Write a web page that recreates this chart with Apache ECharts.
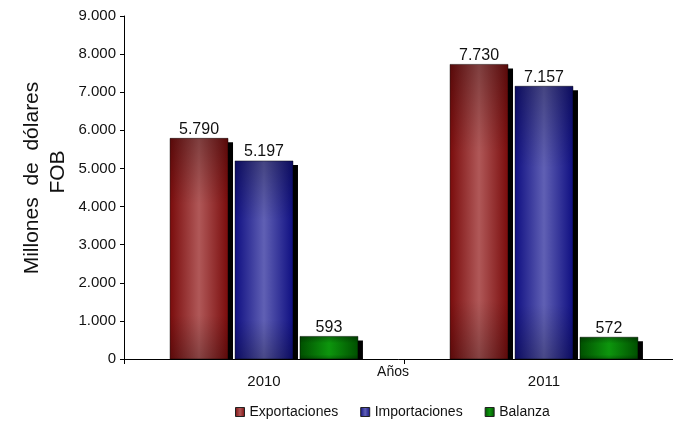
<!DOCTYPE html>
<html><head><meta charset="utf-8">
<script src="https://cdn.jsdelivr.net/npm/echarts@6/dist/echarts.min.js"></script>
<style>html,body{margin:0;padding:0;background:#fff}#c{width:673px;height:422px}</style>
</head><body><div id="c"></div>
<script>
const categories = ['2010', '2011'];
const exportaciones = [5790, 7730];
const importaciones = [5197, 7157];
const balanza = [593, 572];
const seriesNames = ['Exportaciones', 'Importaciones', 'Balanza'];
const yTicks = { min: 0, max: 9000, interval: 1000 };

function fmt(v) { return String(v).replace(/\B(?=(\d{3})+(?!\d))/g, '.'); }
function hgrad(edge, mid) {
  return new echarts.graphic.LinearGradient(0, 0, 1, 0, [
    { offset: 0, color: edge }, { offset: 0.5, color: mid }, { offset: 1, color: edge }
  ]);
}
const palette = [
  { edge: '#7a0c0c', mid: '#b05858' },
  { edge: '#0f0f82', mid: '#6060b4' },
  { edge: '#005000', mid: '#0d960d' }
];
const font = 'Liberation Sans, Arial, sans-serif';

function renderFor(s) {
  return function (params, api) {
    const cat = api.value(0), val = api.value(1);
    const band = api.size([1, 0])[0];
    const bw = band * 0.207, gap = band * 0.025;
    const groupW = 3 * bw + 2 * gap;
    const center = api.coord([cat, 0])[0];
    const x = center - groupW / 2 + s * (bw + gap);
    const top = api.coord([cat, val])[1];
    const base = api.coord([cat, 0])[1];
    const h = base - top;
    const p = palette[s];
    return {
      type: 'group',
      children: [
        { type: 'rect', shape: { x: x + 5, y: top + 4, width: bw, height: Math.max(0, h - 4) },
          style: { fill: '#000' } },
        { type: 'rect', shape: { x: x, y: top, width: bw, height: h },
          style: { fill: hgrad(p.edge, p.mid) } },
        { type: 'rect', shape: { x: x, y: top, width: bw, height: h },
          style: { fill: new echarts.graphic.LinearGradient(0, 0, 0, 1, [
            { offset: 0, color: 'rgba(0,0,0,0.28)' }, { offset: 0.3, color: 'rgba(0,0,0,0)' },
            { offset: 0.8, color: 'rgba(0,0,0,0)' }, { offset: 1, color: 'rgba(0,0,0,0.25)' }]) } },
        { type: 'rect', shape: { x: x, y: top, width: bw, height: h },
          style: { fill: 'none', stroke: 'rgba(0,0,0,0.55)', lineWidth: 0.8 } },
        { type: 'text', x: x + bw / 2, y: top - 1,
          style: { text: fmt(val), font: '16px ' + font, fill: '#111', textAlign: 'center', textVerticalAlign: 'bottom' } }
      ]
    };
  };
}
function mk(name, data, s) {
  return {
    name: name, type: 'custom', renderItem: renderFor(s),
    data: data.map((v, i) => [i, v]),
    encode: { x: 0, y: 1 },
    itemStyle: { color: hgrad(palette[s].edge, palette[s].mid) }
  };
}
const chart = echarts.init(document.getElementById('c'), null, { renderer: 'canvas' });
chart.setOption({
  animation: false,
  backgroundColor: '#fff',
  grid: { left: 124, right: -11, top: 16, bottom: 63, containLabel: false, outerBoundsMode: 'none' },
  graphic: [
    { type: 'text', x: 32, y: 178, rotation: Math.PI / 2,
      style: { text: 'Millones  de  dólares', font: '21px ' + font, fill: '#111', textAlign: 'center', textVerticalAlign: 'middle' } },
    { type: 'text', x: 58, y: 172, rotation: Math.PI / 2,
      style: { text: 'FOB', font: '21px ' + font, fill: '#111', textAlign: 'center', textVerticalAlign: 'middle' } }
  ],
  legend: {
    top: 400, left: 230, itemWidth: 9, itemHeight: 9, itemGap: 22,
    icon: 'rect',
    textStyle: { fontFamily: font, fontSize: 14, color: '#111' },
    itemStyle: { borderColor: '#222', borderWidth: 1 },
    data: seriesNames
  },
  xAxis: {
    type: 'category', data: categories, boundaryGap: true,
    name: 'Años', nameLocation: 'middle', nameGap: 6, nameMoveOverlap: false,
    nameTextStyle: { fontFamily: font, fontSize: 14, color: '#111', padding: [0, 22, 0, 0] },
    axisLine: { lineStyle: { color: '#000', width: 1 } },
    axisTick: { show: true, interval: 0, length: 5, lineStyle: { color: '#000', width: 1 } },
    axisLabel: { fontFamily: font, fontSize: 15, color: '#111', margin: 15 }
  },
  yAxis: {
    type: 'value', min: yTicks.min, max: yTicks.max, interval: yTicks.interval,
    axisLine: { show: true, lineStyle: { color: '#000', width: 1 } },
    axisTick: { show: true, length: 4, lineStyle: { color: '#000' } },
    splitLine: { show: false },
    axisLabel: { fontFamily: font, fontSize: 15, color: '#111', margin: 8, formatter: v => fmt(v) }
  },
  series: [mk(seriesNames[0], exportaciones, 0), mk(seriesNames[1], importaciones, 1), mk(seriesNames[2], balanza, 2)]
});
</script></body></html>
